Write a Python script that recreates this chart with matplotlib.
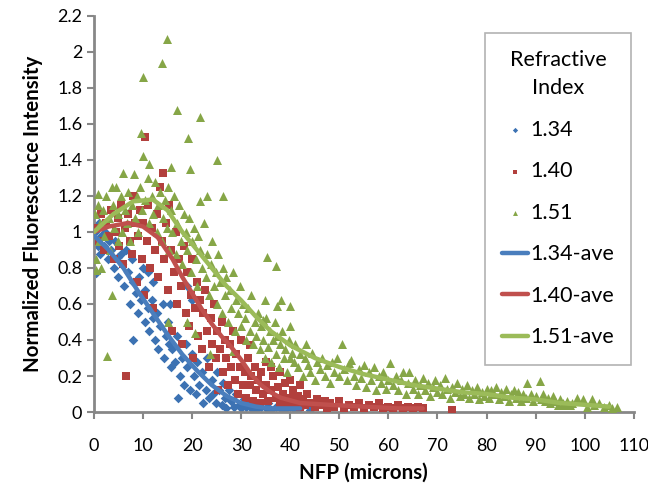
import matplotlib
matplotlib.use("Agg")
import matplotlib.pyplot as plt
from matplotlib import font_manager
import numpy as np

plt.rcParams['font.family'] = ['Lato', 'DejaVu Sans']

# ---- scatter data (NFP in microns, normalized intensity) ----
blue_pts = [
    (0.3, 1.0), (0.5, 0.95), (0.8, 0.92), (1, 1.05), (1.2, 0.88), (1.5, 0.98), (2, 0.92), (2.3, 1.0),
    (2.8, 0.85), (3, 0.95), (3.5, 0.9), (4, 0.8), (4.2, 0.95), (4.8, 0.86), (5, 0.75), (5.5, 0.88),
    (0.5, 0.77), (5.8, 0.82), (6.2, 0.7), (6.5, 0.9), (7, 0.78), (7.3, 0.6), (7.8, 0.85), (8, 0.72),
    (8.5, 0.66), (9, 0.55), (9.2, 0.75), (9.6, 0.62), (10, 0.8), (10.3, 0.5), (10.5, 0.68),
    (11, 0.58), (11.3, 0.45), (11.8, 0.62), (12, 0.52), (12.4, 0.4), (12.8, 0.55), (13, 0.35),
    (13.5, 0.48), (14, 0.6), (14.2, 0.3), (14.6, 0.42), (15, 0.5), (15.3, 0.38), (15.8, 0.25),
    (11, 0.78), (12, 0.72), (15.5, 0.6), (19, 0.7), (20, 0.62), (8, 0.4),
    (16, 0.35), (16.5, 0.28), (17, 0.42), (17.2, 0.08), (17.5, 0.2), (18, 0.3), (18.3, 0.15),
    (18.8, 0.38), (19, 0.25), (19.5, 0.12), (20, 0.32), (20.3, 0.2), (20.8, 0.1),
    (21, 0.28), (21.5, 0.15), (22, 0.22), (22.3, 0.05), (22.8, 0.12), (23, 0.3), (23.5, 0.08),
    (24, 0.18), (24.3, 0.1), (24.8, 0.05), (25, 0.22), (25.5, 0.12), (26, 0.04), (26.3, 0.16),
    (26.8, 0.08), (27, 0.02), (27.5, 0.12), (28, 0.06), (28.5, 0.03), (29, 0.1), (29.5, 0.04),
    (30, 0.02), (30.5, 0.07), (31, 0.03), (31.5, 0.05), (32, 0.02), (32.5, 0.04), (33, 0.01),
    (34, 0.03), (35, 0.02), (35.5, 0.05), (36, 0.01), (37, 0.03), (38, 0.02), (39, 0.01),
    (40, 0.03), (41, 0.01), (42, 0.02), (44, 0.01),
]

red_pts = [
    (0.5, 1.02), (1, 0.95), (1.5, 1.1), (2, 0.9), (2.5, 1.05), (3, 0.98), (3.5, 1.12), (4, 0.85),
    (4.5, 1.0), (5, 1.08), (5.2, 0.92), (5.5, 1.15), (6, 0.82), (6.3, 1.02), (6.6, 0.2), (7, 1.1),
    (7.3, 0.95), (7.8, 0.88), (8, 1.2), (8.3, 1.05), (8.8, 0.72), (9, 0.98), (9.3, 1.12),
    (9.7, 0.85), (10, 1.05), (10.2, 0.65), (10.4, 1.53), (10.8, 0.95), (11, 1.15), (11.4, 0.8),
    (11.8, 1.02), (12, 0.58), (12.4, 0.9), (12.8, 1.1), (13, 0.75), (13.4, 1.25), (13.8, 0.95),
    (14, 1.33), (14.3, 0.85), (14.6, 1.05), (15, 0.68), (15.2, 1.15), (15.6, 0.9), (16, 0.45),
    (16.3, 0.78), (16.8, 1.0), (17, 0.6), (17.4, 0.85), (17.8, 0.7), (18, 0.38), (18.3, 0.92),
    (18.7, 0.55), (19, 0.78), (19.4, 0.48), (19.8, 0.65), (20, 0.85), (20.2, 0.3), (20.6, 0.58),
    (21, 0.72), (21.3, 0.42), (21.7, 0.62), (22, 0.35), (22.3, 0.55), (22.7, 0.68), (23, 0.45),
    (23.4, 0.25), (23.8, 0.52), (24, 0.38), (24.4, 0.6), (24.8, 0.3), (25, 0.45), (25.2, 0.12),
    (25.6, 0.35), (26, 0.5), (26.3, 0.22), (26.7, 0.4), (27, 0.3), (27.4, 0.15), (27.8, 0.38),
    (28, 0.25), (28.3, 0.45), (28.7, 0.18), (29, 0.32), (29.4, 0.1), (29.8, 0.25), (30, 0.4),
    (30.3, 0.15), (30.7, 0.22), (31, 0.08), (31.4, 0.3), (31.8, 0.15), (31.8, 0.37), (32, 0.2),
    (32.4, 0.06), (32.8, 0.25), (33, 0.12), (33.4, 0.18), (33.8, 0.05), (34, 0.22), (34.5, 0.1),
    (35, 0.15), (35, 0.28), (35.5, 0.06), (36, 0.12), (36, 0.25), (36.5, 0.2), (37, 0.08),
    (37.5, 0.14), (38, 0.05), (38, 0.22), (38.5, 0.1), (39, 0.16), (39.5, 0.04), (40, 0.08),
    (40, 0.18), (40.5, 0.12), (41, 0.05), (41.5, 0.09), (42, 0.03), (42, 0.15), (42.5, 0.07),
    (43, 0.04), (43.5, 0.1), (44, 0.05), (45, 0.03), (45.5, 0.07), (46, 0.04), (47, 0.06),
    (47.5, 0.02), (48, 0.05), (49, 0.03), (50, 0.06), (51, 0.02), (52, 0.04), (53, 0.03),
    (54, 0.05), (55, 0.02), (56, 0.04), (57, 0.03), (58, 0.05), (59, 0.02), (60, 0.03),
    (61, 0.02), (62, 0.04), (63, 0.02), (64, 0.03), (65, 0.02), (66, 0.03), (67, 0.02), (73, 0.01),
]

green_pts = [
    (0.2, 1.1), (0.5, 0.85), (0.8, 1.15), (1, 0.95), (1.2, 1.05), (1.5, 0.8), (1.8, 1.12),
    (2, 0.98), (2.6, 0.31), (2.5, 1.2), (3, 1.08), (3.3, 0.9), (3.8, 1.15), (4, 1.02), (4.5, 1.25),
    (4.8, 0.95), (5, 1.1), (0.8, 1.21), (0.5, 0.79), (3.6, 0.65), (3.6, 1.25),
    (5.5, 1.2), (5.8, 1.0), (5.9, 1.33), (6.3, 1.12), (6.8, 1.05), (7, 1.22), (7.3, 0.95),
    (7.8, 1.15), (8.1, 1.32), (8.3, 1.08), (8.8, 1.2), (9, 1.0), (9.3, 1.25), (9.7, 1.12),
    (9.6, 1.55), (10, 1.42), (10, 1.86), (11.3, 1.38), (13.8, 1.94), (14.8, 2.07), (16.9, 1.68),
    (21.6, 1.64), (19.1, 1.52), (25, 1.4), (19.6, 1.35), (15.8, 1.36), (23, 1.2), (26.3, 1.2),
    (21.6, 1.17),
    (10.5, 1.18), (11, 1.3), (11.3, 1.05), (11.8, 1.2), (12, 1.1), (12.4, 1.28), (12.8, 1.0),
    (13, 1.15), (13.4, 1.22), (13.8, 0.95), (14, 1.08), (14.4, 1.18), (14.8, 1.02), (15, 1.25),
    (15.3, 0.9), (15.7, 1.12), (16, 1.0), (16.3, 1.2), (16.8, 0.88), (17, 1.05), (17.4, 1.15),
    (17.8, 0.95), (18, 0.82), (18.3, 1.1), (18.7, 1.0), (19, 0.9), (19.4, 1.08), (19.8, 0.78),
    (20, 0.95), (20.4, 1.02), (20.8, 0.85), (21, 0.7), (21.3, 0.98), (21.7, 0.9), (22, 0.8),
    (22.4, 1.05), (22.8, 0.75), (23, 0.88), (23.4, 0.65), (23.8, 0.82), (24, 0.95), (24.4, 0.7),
    (24.8, 0.78), (25, 0.6), (25.3, 0.88), (25.7, 0.72), (26, 0.55), (26.3, 0.8), (26.7, 0.65),
    (27, 0.75), (27.4, 0.5), (27.8, 0.68), (28, 0.58), (28.4, 0.78), (28.8, 0.45), (29, 0.62),
    (29.4, 0.55), (29.8, 0.7), (30, 0.48), (30.3, 0.6), (15, 0.5), (19, 0.5), (20.6, 0.44),
    (23.6, 0.32), (28.3, 0.34),
    (30.7, 0.52), (31, 0.4), (31.4, 0.58), (31.8, 0.45), (32, 0.65), (32.4, 0.38), (32.8, 0.5),
    (33, 0.42), (33.4, 0.55), (33.8, 0.35), (34, 0.48), (34.4, 0.4), (34.8, 0.3), (35, 0.52),
    (35.4, 0.36), (35.8, 0.45), (36, 0.28), (36.4, 0.4), (36.8, 0.5), (37, 0.32), (37.4, 0.42),
    (37.8, 0.25), (38, 0.38), (38.4, 0.45), (38.8, 0.3), (39, 0.35), (39.4, 0.22), (39.8, 0.4),
    (40, 0.3), (40.4, 0.33), (35.2, 0.86), (37, 0.81), (34.8, 0.62), (38.2, 0.62), (37.2, 0.59),
    (39.9, 0.59), (34.5, 0.51), (40, 0.48),
    (40.8, 0.28), (41, 0.38), (41.5, 0.25), (42, 0.32), (42.5, 0.2), (43, 0.3), (43.2, 0.38),
    (43.6, 0.26), (44, 0.22), (44.5, 0.33), (45, 0.18), (45.5, 0.28), (46, 0.24), (46.5, 0.3),
    (47, 0.2), (47.5, 0.26), (48, 0.16), (48.5, 0.28), (49, 0.22), (49.5, 0.3), (50, 0.2),
    (50.5, 0.38), (51, 0.24), (51.5, 0.18), (52, 0.27), (52.4, 0.29), (53, 0.2), (53.5, 0.15),
    (54, 0.24), (54.5, 0.19), (55, 0.26), (55.5, 0.14), (56, 0.22), (56.5, 0.18), (57, 0.25),
    (57.5, 0.12), (58, 0.2), (58.5, 0.16), (59, 0.22), (59.5, 0.13), (60, 0.18), (60.3, 0.27),
    (61, 0.15), (61.5, 0.2), (62, 0.12), (62.5, 0.18), (63, 0.22), (63.5, 0.1), (64, 0.16),
    (64.2, 0.22), (65, 0.13), (65.5, 0.18), (66, 0.1), (66.5, 0.15), (67, 0.19), (67.5, 0.12),
    (68, 0.16), (68.5, 0.09), (69, 0.14), (69.5, 0.18), (70, 0.11), (70.5, 0.15), (71, 0.1),
    (71.5, 0.19), (72, 0.13), (72.5, 0.08), (73, 0.14), (73.5, 0.11), (74, 0.16), (74.5, 0.09),
    (75, 0.13), (75.5, 0.1), (76, 0.15), (76.5, 0.08), (77, 0.12), (77.5, 0.1), (78, 0.14),
    (78.5, 0.07), (79, 0.11), (79.5, 0.09), (80, 0.13), (80.5, 0.08), (81, 0.12), (81.5, 0.1),
    (82, 0.14), (82.5, 0.07), (83, 0.11), (83.5, 0.09), (84, 0.13), (84.5, 0.06), (85, 0.1),
    (85.5, 0.12), (86, 0.08), (86.5, 0.11), (87, 0.06), (87.5, 0.1), (88, 0.08), (88.2, 0.16),
    (89, 0.1), (89.5, 0.06), (90, 0.09), (90.8, 0.17), (91, 0.07), (91.5, 0.1), (92, 0.06),
    (92.5, 0.08), (93, 0.05), (93.5, 0.09), (94, 0.06), (94.5, 0.04), (95, 0.07), (95.5, 0.05),
    (96, 0.04), (96.5, 0.06), (97, 0.04), (97.5, 0.05), (98.4, 0.08), (99.6, 0.07), (100.5, 0.03),
    (101.4, 0.07), (102, 0.04), (103, 0.05), (104, 0.03), (105, 0.04), (105.5, 0.02), (106.5, 0.03),
]

# ---- averaged curves ----
blue_ave_x = [0, 3, 6, 9, 12, 15, 18, 21, 24, 27, 30, 33, 36, 40, 42]
blue_ave_y = [0.98, 0.9, 0.8, 0.67, 0.55, 0.43, 0.32, 0.23, 0.15, 0.09, 0.05, 0.03, 0.02, 0.02, 0.02]

red_ave_x = [0, 3, 7, 10, 13, 16, 18, 20, 22, 24, 26, 28, 30, 32, 34, 36, 38, 42, 48, 55, 62, 67]
red_ave_y = [1.0, 1.03, 1.05, 1.03, 0.97, 0.85, 0.75, 0.66, 0.57, 0.49, 0.42, 0.36, 0.29, 0.21,
             0.15, 0.11, 0.08, 0.05, 0.04, 0.03, 0.02, 0.02]

green_ave_x = [0, 4, 8, 12, 15, 18, 21, 24, 27, 30, 33, 36, 40, 45, 50, 55, 60, 65, 70, 75, 80,
               85, 90, 95, 100, 105]
green_ave_y = [1.0, 1.1, 1.17, 1.18, 1.12, 1.0, 0.9, 0.8, 0.7, 0.62, 0.53, 0.45, 0.37, 0.3, 0.25,
               0.21, 0.18, 0.15, 0.13, 0.11, 0.1, 0.08, 0.07, 0.05, 0.04, 0.03]

x_ticks = list(range(0, 111, 10))
y_ticks = [0, 0.2, 0.4, 0.6, 0.8, 1, 1.2, 1.4, 1.6, 1.8, 2, 2.2]

c_blue, c_red, c_green = '#3C72B3', '#B2403D', '#86A647'
l_blue, l_red, l_green = '#4A7EBD', '#C0504D', '#9BBB59'

# bold font for the axis titles: pick the Lato Bold file directly
bold_file = None
for f in font_manager.fontManager.ttflist:
    if f.fname.endswith('Lato-Bold.ttf'):
        bold_file = f.fname
        break
if bold_file is None:
    for f in font_manager.fontManager.ttflist:
        if f.fname.endswith('LiberationSans-Bold.ttf'):
            bold_file = f.fname
            break
if bold_file:
    lab_prop = font_manager.FontProperties(fname=bold_file, size=14.8)
else:
    lab_prop = font_manager.FontProperties(family='DejaVu Sans', weight='bold', size=13)

fig = plt.figure(figsize=(6.48, 5.04), dpi=100)
ax = fig.add_axes([0.145, 0.1825, 0.833, 0.786])

bx, by = zip(*blue_pts)
rx, ry = zip(*red_pts)
gx, gy = zip(*green_pts)
ax.scatter(bx, by, marker='D', s=24, color=c_blue, linewidths=0, label='1.34', zorder=2)
ax.scatter(rx, ry, marker='s', s=36, color=c_red, linewidths=0, label='1.40', zorder=3)
ax.scatter(gx, gy, marker='^', s=42, color=c_green, linewidths=0, label='1.51', zorder=4)

ax.plot(blue_ave_x, blue_ave_y, color=l_blue, lw=3.2, label='1.34-ave', zorder=5, solid_capstyle='round')
ax.plot(red_ave_x, red_ave_y, color=l_red, lw=3.2, label='1.40-ave', zorder=5, solid_capstyle='round')
ax.plot(green_ave_x, green_ave_y, color=l_green, lw=3.2, label='1.51-ave', zorder=5, solid_capstyle='round')

ax.set_xlim(0, 110)
ax.set_ylim(0, 2.2)
ax.set_xticks(x_ticks)
ax.set_yticks(y_ticks)
ax.set_yticklabels([f'{v:g}' for v in y_ticks])
ax.tick_params(axis='both', labelsize=13, color='#878787', width=1.5, length=5, direction='out')
ax.tick_params(axis='x', pad=14)
for side in ['top', 'right']:
    ax.spines[side].set_visible(False)
for side in ['left', 'bottom']:
    ax.spines[side].set_color('#878787')
    ax.spines[side].set_linewidth(2)

ax.set_xlabel('NFP (microns)', labelpad=6, fontproperties=lab_prop)
ax.set_ylabel('Normalized Fluorescence Intensity', labelpad=10, fontproperties=lab_prop)

leg = ax.legend(loc='upper left', bbox_to_anchor=(0.724, 0.957), borderaxespad=0,
                title='Refractive\nIndex', fontsize=15.5, title_fontsize=15.5, frameon=True,
                fancybox=False, edgecolor='#A0A0A0', handlelength=1.2, handletextpad=0.1,
                labelspacing=1.0, markerscale=0.55, borderpad=0.8)
leg.get_frame().set_linewidth(1.2)
leg.get_title().set_multialignment('center')
leg.get_title().set_linespacing(1.5)

fig.savefig('out.png', dpi=100)
